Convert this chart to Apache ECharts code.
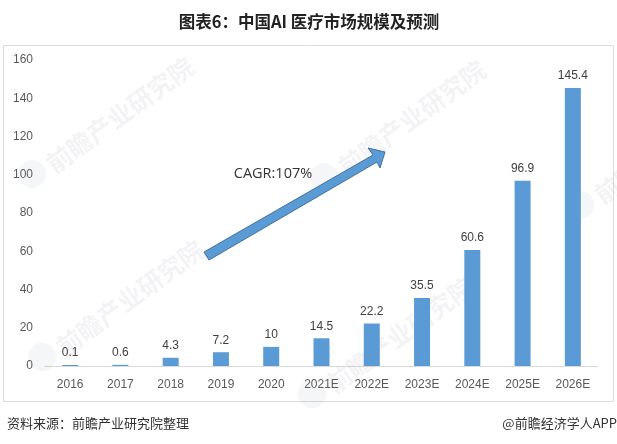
<!DOCTYPE html>
<html>
<head>
<meta charset="utf-8">
<style>
html, body { margin: 0; padding: 0; background: #fff; }
#main { width: 617px; height: 444px; }
</style>
<script src="https://cdn.jsdelivr.net/npm/echarts@6/dist/echarts.min.js"></script>
</head>
<body>
<div id="main"></div>
<script>
var categories = ['2016', '2017', '2018', '2019', '2020', '2021E', '2022E', '2023E', '2024E', '2025E', '2026E'];
var marketSize = [0.1, 0.6, 4.3, 7.2, 10, 14.5, 22.2, 35.5, 60.6, 96.9, 145.4];
var yTicks = [0, 20, 40, 60, 80, 100, 120, 140, 160];

var cjkFont = '"Noto Sans CJK SC", sans-serif';
var latinFont = '"Liberation Sans", Arial, sans-serif';

// 水印
var marks = [[120, 115], [412, 118], [130, 298], [400, 335], [668, 146]];
var watermark = [];
marks.forEach(function (m) {
    watermark.push({
        type: 'text', x: m[0], y: m[1], rotation: 0.63, silent: true, z: 1,
        style: {
            text: '前瞻产业研究院', fill: 'rgba(120,125,140,0.09)',
            font: 'bold 25px ' + cjkFont, align: 'center', verticalAlign: 'middle'
        }
    });
    watermark.push({
        type: 'circle', x: m[0] - 88, y: m[1] + 59, silent: true, z: 1,
        shape: { r: 14 },
        style: { fill: 'rgba(130,135,160,0.08)' }
    });
});

var myChart = echarts.init(document.getElementById('main'));

var option = {
    animation: false,
    backgroundColor: '#fff',
    title: {
        text: '图表6：中国AI 医疗市场规模及预测',
        left: 304, top: 8, textAlign: 'center',
        textStyle: { fontFamily: cjkFont, fontSize: 16.5, fontWeight: 'bold', color: '#222' }
    },
    grid: { left: 45, right: 19, top: 60, bottom: 78 },
    xAxis: {
        type: 'category',
        data: categories,
        axisTick: { show: false },
        axisLine: { lineStyle: { color: '#d9d9d9', width: 1 } },
        axisLabel: { color: '#595959', fontSize: 12, fontFamily: latinFont, margin: 13 }
    },
    yAxis: {
        type: 'value',
        min: yTicks[0],
        max: yTicks[yTicks.length - 1],
        interval: 20,
        axisLine: { show: false },
        axisTick: { show: false },
        splitLine: { show: false },
        axisLabel: { color: '#595959', fontSize: 12, fontFamily: latinFont, margin: 12, padding: [2, 0, 0, 0] }
    },
    series: [{
        type: 'bar',
        data: marketSize,
        barWidth: 16,
        barMinHeight: 1,
        z: 3,
        itemStyle: { color: '#5b9bd5' },
        label: {
            show: true, position: 'top', distance: 6,
            color: '#404040', fontSize: 12, fontFamily: latinFont
        }
    }],
    graphic: watermark.concat([
        {
            type: 'rect', silent: true, z: 0,
            shape: { x: 3.5, y: 45.5, width: 610, height: 356 },
            style: { fill: 'none', stroke: '#dcdcdc', lineWidth: 1 }
        },
        {
            // CAGR 箭头
            type: 'polygon', silent: true, z: 5,
            shape: { points: [[204, 252], [373, 155], [368, 148], [385, 152], [380, 168], [377, 162], [209, 260]] },
            style: { fill: '#5b9bd5', stroke: '#41719c', lineWidth: 1 }
        },
        {
            type: 'text', x: 273, y: 174, z: 6,
            style: {
                text: 'CAGR:107%', fill: '#333', align: 'center', verticalAlign: 'middle',
                font: '14.5px "Open Sans", ' + latinFont
            }
        },
        {
            type: 'text', x: 7, y: 423, z: 6,
            style: { text: '资料来源：前瞻产业研究院整理', fill: '#333', verticalAlign: 'middle', font: '13px ' + cjkFont }
        },
        {
            type: 'text', x: 617, y: 423, z: 6,
            style: { text: '@前瞻经济学人APP', fill: '#333', align: 'right', verticalAlign: 'middle', font: '13px ' + cjkFont }
        }
    ])
};

myChart.setOption(option);
</script>
</body>
</html>
